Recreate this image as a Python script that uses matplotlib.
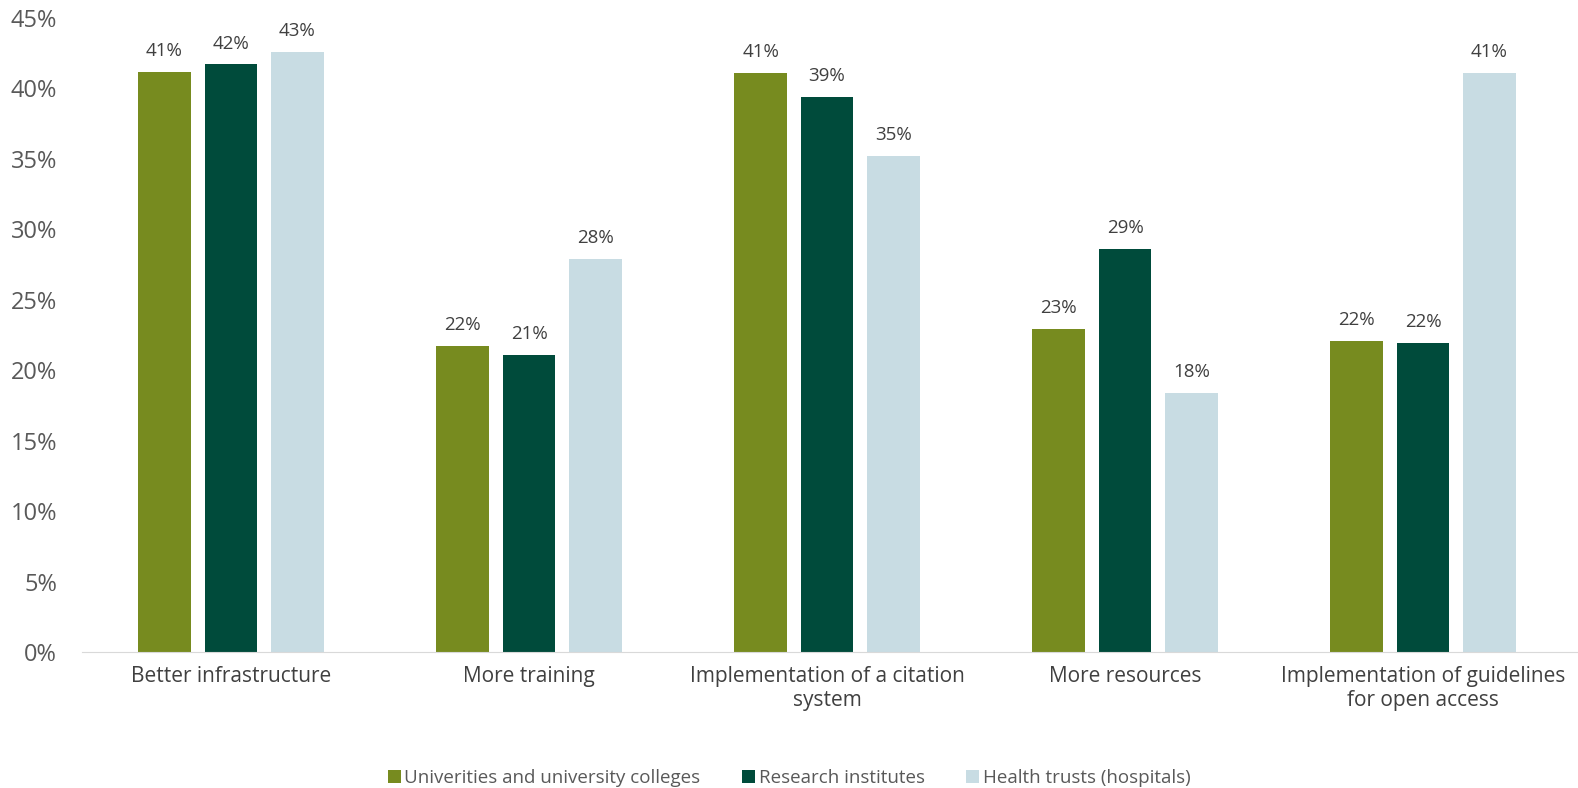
import numpy as np
import matplotlib.pyplot as plt

plt.rcParams['font.family'] = ['Open Sans', 'DejaVu Sans']

categories = ['Better infrastructure', 'More training', 'Implementation of a citation\nsystem',
              'More resources', 'Implementation of guidelines\nfor open access']
series = ['Univerities and university colleges', 'Research institutes', 'Health trusts (hospitals)']
universities = [41.2, 21.7, 41.1, 22.9, 22.1]
institutes = [41.7, 21.1, 39.4, 28.6, 21.9]
hospitals = [42.6, 27.9, 35.2, 18.4, 41.1]
colors = ['#778B1F', '#004B3B', '#C8DCE3']

fig = plt.figure(figsize=(15.78, 7.88), dpi=100)
ax = fig.add_axes([82 / 1578, 1 - 652 / 788, (1578 - 82) / 1578, (652 - 18) / 788])

x = np.arange(len(categories))
width = 0.176
step = 0.223
for i, (vals, name, c) in enumerate(zip([universities, institutes, hospitals], series, colors)):
    pos = x + (i - 1) * step
    bars = ax.bar(pos, vals, width, color=c, label=name)
    for b, v in zip(bars, vals):
        ax.text(b.get_x() + b.get_width() / 2, v + 0.85, f'{v:.0f}%', ha='center', va='bottom',
                fontsize=13.5, color='#404040')

ax.set_xlim(-0.5, 4.52)
ax.set_ylim(0, 45)
ax.set_yticks(np.arange(0, 46, 5))
ax.set_yticklabels([f'{t}%' for t in range(0, 46, 5)])
ax.set_xticks(x)
ax.set_xticklabels(categories)
ax.tick_params(axis='y', length=0, labelsize=17, labelcolor='#595959', pad=18)
ax.tick_params(axis='x', length=0, labelsize=15, labelcolor='#404040', pad=10)
for s in ['top', 'right', 'left']:
    ax.spines[s].set_visible(False)
ax.spines['bottom'].set_color('#D9D9D9')

fig.legend(loc='center', bbox_to_anchor=(0.5, 1 - 778 / 788), ncol=3, frameon=False,
           fontsize=13.5, labelcolor='#595959', handlelength=0.7, handleheight=0.7,
           handletextpad=0.2, columnspacing=2.2)

fig.savefig('out.png', dpi=100)
